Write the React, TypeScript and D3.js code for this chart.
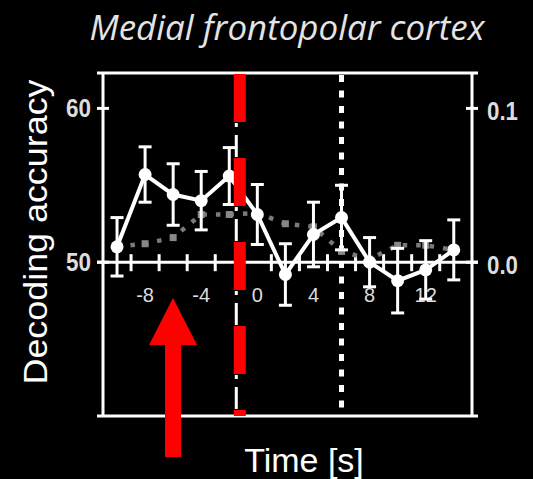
import React from "react";
import * as d3 from "d3";

const times = [-10, -8, -6, -4, -2, 0, 2, 4, 6, 8, 10, 12, 14];
const accuracy = [51.0, 55.7, 54.4, 54.0, 55.6, 53.1, 49.2, 51.8, 52.9, 50.0, 48.8, 49.5, 50.8];
const accuracySE = [1.9, 1.8, 2.0, 1.9, 1.85, 1.95, 2.0, 2.1, 2.1, 1.6, 2.1, 1.9, 1.95];
const rightSeries = [0.010, 0.012, 0.016, 0.031, 0.031, 0.032, 0.025, 0.023, 0.007, 0.002, 0.011, 0.011, 0.008];
const xTickLabels = [-8, -4, 0, 4, 8, 12];
const xMinorTicks = [-9, -7, -5, -3, -1, 1, 3, 5, 7, 9, 11, 13];
const leftTicks = [50, 60];
const rightTicks = [0.0, 0.1];
const eventTimes = { red: -1.25, dashDot: -1.5, dotted: 6 };

export default function App() {
  const W = 533, H = 479;
  const L = 103, R = 472, T = 73, B = 416;
  const x = d3.scaleLinear().domain([-11, 15.3]).range([L, R]);
  const y = d3.scaleLinear().domain([40, 62.3]).range([B, T]);
  const yR = d3.scaleLinear().domain([-0.1, 0.123]).range([B, T]);
  const axisY = y(50);

  const whiteLine = d3.line<number>().x((_, i) => x(times[i])).y((d) => y(d))(accuracy) || "";
  const grayLine = d3.line<number>().x((_, i) => x(times[i])).y((d) => yR(d))(rightSeries) || "";

  const xr = x(eventTimes.red);
  const xd = x(eventTimes.dashDot);
  const xdot = x(eventTimes.dotted);

  return (
    <svg width={W} height={H} style={{ position: "absolute", left: 0, top: 0, background: "#000" }}>
      <rect x={0} y={0} width={W} height={H} fill="#000" />
      {/* Title */}
      <text x={287} y={40} textAnchor="middle" fill="#e4e4e4" fontFamily="'Open Sans', sans-serif"
        fontStyle="italic" fontSize={35} textLength={395} lengthAdjust="spacingAndGlyphs">
        Medial frontopolar cortex
      </text>
      {/* Y label */}
      <text transform={`translate(47,232) rotate(-90)`} textAnchor="middle" fill="#fff"
        fontFamily="'Liberation Sans', Arial, sans-serif" fontSize={34} textLength={305} lengthAdjust="spacingAndGlyphs">
        Decoding accuracy
      </text>
      {/* X label */}
      <text x={304} y={472} textAnchor="middle" fill="#fff"
        fontFamily="'Liberation Sans', Arial, sans-serif" fontSize={34}>
        Time [s]
      </text>

      {/* frame */}
      <g stroke="#fff" strokeWidth={3} fill="none">
        <line x1={97} x2={478} y1={T} y2={T} />
        <line x1={97} x2={478} y1={B} y2={B} />
        <line x1={L} x2={L} y1={T} y2={B} />
        <line x1={R} x2={R} y1={T} y2={B} />
        <line x1={97} x2={478} y1={axisY} y2={axisY} />
        {leftTicks.map((t) => (
          <line key={"l" + t} x1={97} x2={109} y1={y(t)} y2={y(t)} />
        ))}
        {rightTicks.map((t) => (
          <line key={"r" + t} x1={466} x2={478} y1={yR(t)} y2={yR(t)} />
        ))}
        {xMinorTicks.map((t) => (
          <line key={"x" + t} x1={x(t)} x2={x(t)} y1={axisY - 8} y2={axisY + 9} />
        ))}
      </g>
      {/* left tick labels */}
      {leftTicks.map((t) => (
        <text key={"lt" + t} x={91} y={y(t) + 9} textAnchor="end" fill="#ddd"
          fontFamily="'Liberation Sans', Arial, sans-serif" fontWeight="bold" fontSize={25}
          textLength={25} lengthAdjust="spacingAndGlyphs">
          {t}
        </text>
      ))}
      {rightTicks.map((t) => (
        <text key={"rt" + t} x={487} y={yR(t) + 12} textAnchor="start" fill="#ddd"
          fontFamily="'Liberation Sans', Arial, sans-serif" fontWeight="bold" fontSize={25}
          textLength={31} lengthAdjust="spacingAndGlyphs">
          {t.toFixed(1)}
        </text>
      ))}
      {xTickLabels.map((t) => (
        <text key={"xt" + t} x={x(t)} y={302} textAnchor="middle" fill="#ddd"
          fontFamily="'Liberation Sans', Arial, sans-serif" fontSize={20}>
          {t}
        </text>
      ))}

      {/* dotted vertical at t=6 */}
      <line x1={xdot} x2={xdot} y1={T + 2} y2={B} stroke="#fff" strokeWidth={5} strokeDasharray="7 8.5" />
      {/* dash-dot white vertical */}
      <line x1={xd} x2={xd} y1={T + 1} y2={B} stroke="#fff" strokeWidth={3} strokeDasharray="40 9 4 8 22 1" />

      {/* gray dotted series */}
      <path d={grayLine} fill="none" stroke="#7a7a7a" strokeWidth={4.5} strokeDasharray="4.5 9" />
      {rightSeries.map((v, i) => (
        <rect key={"g" + i} x={x(times[i]) - 3.5} y={yR(v) - 3.5} width={7} height={7} fill="#888" />
      ))}

      {/* white series */}
      <g stroke="#fff" strokeWidth={3}>
        {accuracy.map((v, i) => (
          <g key={"e" + i}>
            <line x1={x(times[i])} x2={x(times[i])} y1={y(v + accuracySE[i])} y2={y(v - accuracySE[i])} />
            <line x1={x(times[i]) - 6.5} x2={x(times[i]) + 6.5} y1={y(v + accuracySE[i])} y2={y(v + accuracySE[i])} />
            <line x1={x(times[i]) - 6.5} x2={x(times[i]) + 6.5} y1={y(v - accuracySE[i])} y2={y(v - accuracySE[i])} />
          </g>
        ))}
      </g>
      <path d={whiteLine} fill="none" stroke="#fff" strokeWidth={4} />
      {accuracy.map((v, i) => (
        <circle key={"c" + i} cx={x(times[i])} cy={y(v)} r={6.5} fill="#fff" />
      ))}

      {/* red dashed vertical */}
      <line x1={xr} x2={xr} y1={T + 1} y2={B} stroke="#ff0000" strokeWidth={12} strokeDasharray="48 36" />

      {/* red arrow */}
      <path d={`M173,298 L197,345 L181,345 L181,457 L165,457 L165,345 L149,345 Z`} fill="#ff0000" />
    </svg>
  );
}
